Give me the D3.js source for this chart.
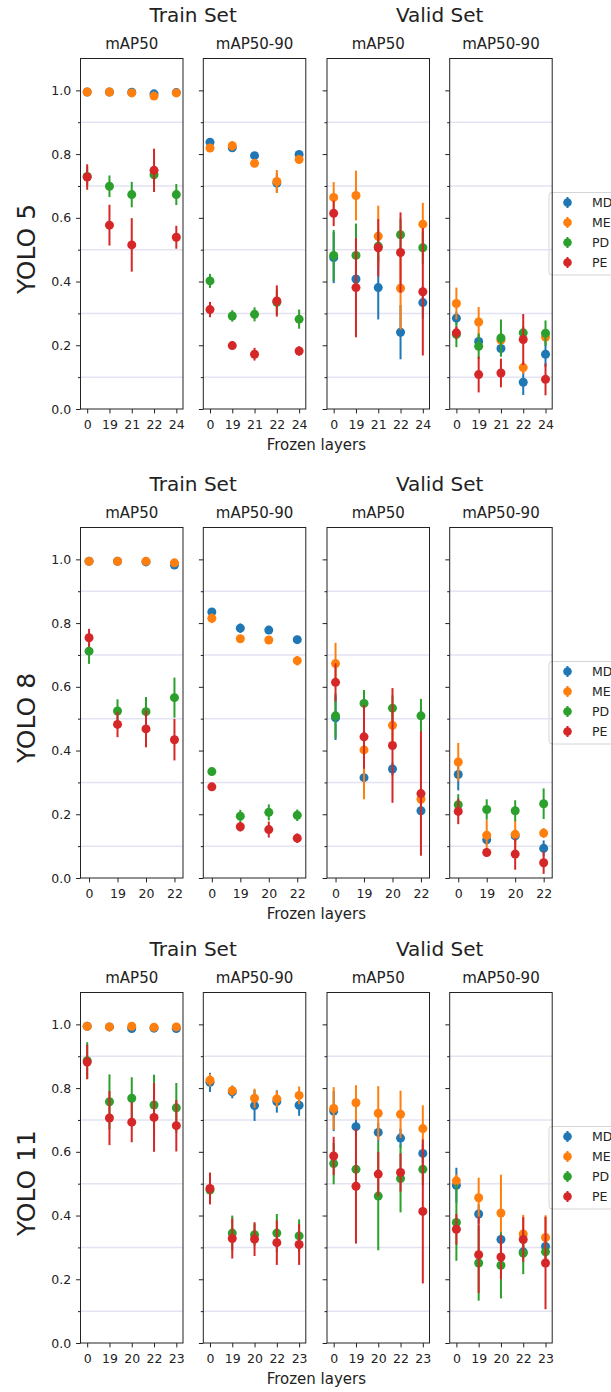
<!DOCTYPE html>
<html>
<head>
<meta charset="utf-8">
<script src="https://cdn.jsdelivr.net/npm/d3@7"></script>
<style>
  body { margin: 0; background: #fff; }
  svg { display: block; font-family: "DejaVu Sans", sans-serif; }
</style>
</head>
<body>
<svg id="chart" width="611" height="1392"></svg>
<script>
// categories
const series = ["MD", "ME", "PD", "PE"];
const colors = ["#1f77b4", "#ff7f0e", "#2ca02c", "#d62728"];
const layers5 = ["0", "19", "21", "22", "24"];
const layers8 = ["0", "19", "20", "22"];
const layers11 = ["0", "19", "20", "22", "23"];
const yTicks = [0, 0.2, 0.4, 0.6, 0.8, 1.0];
const yMinor = [0.1, 0.3, 0.5, 0.7, 0.9];
const panelTitles = ["mAP50", "mAP50-90", "mAP50", "mAP50-90"];

// YOLO 5 (rows = MD, ME, PD, PE)
const y5TrainMap50 = [[0.995, 0.995, 0.994, 0.989, 0.993], [0.995, 0.995, 0.992, 0.982, 0.992], [0.73, 0.699, 0.673, 0.735, 0.673], [0.728, 0.577, 0.515, 0.749, 0.539]];
const y5TrainMap50Err = [[0.003, 0.003, 0.004, 0.005, 0.003], [0.003, 0.003, 0.004, 0.008, 0.003], [0.03, 0.034, 0.04, 0.03, 0.033], [0.04, 0.064, 0.084, 0.068, 0.036]];
const y5TrainMap5090 = [[0.837, 0.82, 0.795, 0.709, 0.799], [0.819, 0.826, 0.771, 0.714, 0.783], [0.402, 0.292, 0.297, 0.335, 0.282], [0.312, 0.199, 0.172, 0.339, 0.182]];
const y5TrainMap5090Err = [[0.008, 0.01, 0.008, 0.03, 0.008], [0.008, 0.015, 0.008, 0.036, 0.008], [0.022, 0.018, 0.022, 0.04, 0.03], [0.024, 0.01, 0.02, 0.049, 0.015]];
const y5ValidMap50 = [[0.475, 0.408, 0.381, 0.241, 0.334], [0.664, 0.67, 0.542, 0.379, 0.58], [0.482, 0.482, 0.511, 0.547, 0.506], [0.614, 0.381, 0.506, 0.491, 0.368]];
const y5ValidMap50Err = [[0.08, 0.04, 0.1, 0.085, 0.05], [0.048, 0.078, 0.096, 0.13, 0.067], [0.08, 0.1, 0.05, 0.05, 0.05], [0.04, 0.156, 0.09, 0.126, 0.2]];
const y5ValidMap5090 = [[0.285, 0.212, 0.19, 0.084, 0.172], [0.331, 0.273, 0.216, 0.13, 0.226], [0.234, 0.197, 0.223, 0.239, 0.238], [0.239, 0.108, 0.113, 0.218, 0.093]];
const y5ValidMap5090Err = [[0.02, 0.02, 0.025, 0.04, 0.04], [0.05, 0.047, 0.02, 0.02, 0.02], [0.04, 0.04, 0.058, 0.02, 0.04], [0.02, 0.056, 0.045, 0.08, 0.05]];

// YOLO 8
const y8TrainMap50 = [[0.994, 0.994, 0.992, 0.982], [0.994, 0.994, 0.994, 0.989], [0.712, 0.524, 0.522, 0.566], [0.754, 0.482, 0.468, 0.434]];
const y8TrainMap50Err = [[0.002, 0.002, 0.003, 0.005], [0.002, 0.002, 0.002, 0.004], [0.04, 0.037, 0.046, 0.063], [0.028, 0.04, 0.058, 0.065]];
const y8TrainMap5090 = [[0.835, 0.784, 0.778, 0.748], [0.815, 0.751, 0.747, 0.682], [0.334, 0.194, 0.206, 0.197], [0.286, 0.161, 0.152, 0.125]];
const y8TrainMap5090Err = [[0.01, 0.015, 0.01, 0.012], [0.015, 0.008, 0.008, 0.015], [0.01, 0.02, 0.025, 0.018], [0.01, 0.015, 0.025, 0.015]];
const y8ValidMap50 = [[0.503, 0.315, 0.342, 0.211], [0.673, 0.402, 0.479, 0.247], [0.509, 0.548, 0.533, 0.509], [0.614, 0.443, 0.416, 0.265]];
const y8ValidMap50Err = [[0.07, 0.02, 0.02, 0.02], [0.065, 0.155, 0.05, 0.03], [0.07, 0.042, 0.04, 0.053], [0.06, 0.1, 0.18, 0.195]];
const y8ValidMap5090 = [[0.325, 0.12, 0.132, 0.093], [0.364, 0.134, 0.137, 0.141], [0.23, 0.215, 0.211, 0.233], [0.209, 0.08, 0.075, 0.048]];
const y8ValidMap5090Err = [[0.05, 0.015, 0.02, 0.025], [0.06, 0.048, 0.045, 0.015], [0.033, 0.032, 0.033, 0.048], [0.04, 0.012, 0.049, 0.035]];

// YOLO 11
const y11TrainMap50 = [[0.994, 0.992, 0.987, 0.988, 0.987], [0.994, 0.992, 0.994, 0.991, 0.992], [0.886, 0.757, 0.768, 0.747, 0.738], [0.882, 0.706, 0.693, 0.708, 0.682]];
const y11TrainMap50Err = [[0.003, 0.003, 0.003, 0.003, 0.003], [0.003, 0.003, 0.003, 0.003, 0.003], [0.058, 0.086, 0.066, 0.095, 0.078], [0.054, 0.085, 0.063, 0.108, 0.081]];
const y11TrainMap5090 = [[0.818, 0.788, 0.745, 0.758, 0.746], [0.825, 0.792, 0.768, 0.766, 0.777], [0.48, 0.345, 0.34, 0.345, 0.336], [0.485, 0.328, 0.326, 0.315, 0.309]];
const y11TrainMap5090Err = [[0.03, 0.02, 0.048, 0.035, 0.033], [0.02, 0.015, 0.03, 0.025, 0.028], [0.04, 0.055, 0.035, 0.06, 0.052], [0.05, 0.063, 0.053, 0.07, 0.064]];
const y11ValidMap50 = [[0.728, 0.679, 0.661, 0.643, 0.595], [0.736, 0.754, 0.721, 0.718, 0.673], [0.563, 0.545, 0.461, 0.516, 0.545], [0.587, 0.492, 0.53, 0.535, 0.413]];
const y11ValidMap50Err = [[0.063, 0.03, 0.03, 0.03, 0.03], [0.067, 0.055, 0.085, 0.074, 0.073], [0.065, 0.05, 0.17, 0.106, 0.05], [0.06, 0.18, 0.07, 0.06, 0.226]];
const y11ValidMap5090 = [[0.495, 0.405, 0.325, 0.286, 0.303], [0.509, 0.456, 0.408, 0.342, 0.331], [0.378, 0.251, 0.244, 0.282, 0.286], [0.357, 0.277, 0.27, 0.325, 0.251]];
const y11ValidMap5090Err = [[0.055, 0.03, 0.02, 0.02, 0.02], [0.02, 0.063, 0.12, 0.06, 0.07], [0.12, 0.118, 0.104, 0.066, 0.03], [0.048, 0.12, 0.07, 0.07, 0.145]];

const rows = [
  { label: "YOLO 5", top: 0, layers: layers5,
    panels: [[y5TrainMap50, y5TrainMap50Err], [y5TrainMap5090, y5TrainMap5090Err], [y5ValidMap50, y5ValidMap50Err], [y5ValidMap5090, y5ValidMap5090Err]] },
  { label: "YOLO 8", top: 469, layers: layers8,
    panels: [[y8TrainMap50, y8TrainMap50Err], [y8TrainMap5090, y8TrainMap5090Err], [y8ValidMap50, y8ValidMap50Err], [y8ValidMap5090, y8ValidMap5090Err]] },
  { label: "YOLO 11", top: 934, layers: layers11,
    panels: [[y11TrainMap50, y11TrainMap50Err], [y11TrainMap5090, y11TrainMap5090Err], [y11ValidMap50, y11ValidMap50Err], [y11ValidMap5090, y11ValidMap5090Err]] }
];

const svg = d3.select("#chart");
const panelX = [80.5, 203.3, 327, 449.7];
const panelW = 102.5, panelTop = 58.5, panelH = 350.5;
const textColor = "#222";

rows.forEach(row => {
  const top = row.top;

  // legend goes first so the panel frame sits above it
  const lg = svg.append("g").attr("transform", `translate(549,${top + 192.5})`);
  lg.append("rect")
    .attr("width", 80).attr("height", 82.5).attr("rx", 3)
    .attr("fill", "#fff").attr("stroke", "#d5d5d5");
  series.forEach((s, i) => {
    const e = lg.append("g").attr("transform", `translate(18.5,${10 + i * 20})`);
    e.append("line").attr("y1", -5.5).attr("y2", 5.5)
      .attr("stroke", colors[i]).attr("stroke-width", 2);
    e.append("circle").attr("r", 4.3).attr("fill", colors[i]);
    e.append("text").attr("x", 24.5).attr("dy", "0.35em")
      .style("font-size", "12.5px").attr("fill", textColor).text(s);
  });

  // group titles
  svg.append("text")
    .attr("x", (panelX[0] + panelX[1] + panelW) / 2).attr("y", top + 21.7)
    .attr("text-anchor", "middle").style("font-size", "20px").attr("fill", textColor)
    .text("Train Set");
  svg.append("text")
    .attr("x", (panelX[2] + panelX[3] + panelW) / 2).attr("y", top + 21.7)
    .attr("text-anchor", "middle").style("font-size", "20px").attr("fill", textColor)
    .text("Valid Set");

  // row label
  svg.append("text")
    .attr("transform", `translate(35,${top + 249}) rotate(-90)`)
    .attr("text-anchor", "middle").style("font-size", "25px").attr("fill", textColor)
    .text(row.label);

  // x label
  svg.append("text")
    .attr("x", (panelX[0] + panelX[3] + panelW) / 2).attr("y", top + 449.5)
    .attr("text-anchor", "middle").style("font-size", "15px").attr("fill", textColor)
    .text("Frozen layers");

  row.panels.forEach(([means, errs], p) => {
    const g = svg.append("g").attr("transform", `translate(${panelX[p]},${top + panelTop})`);
    const y = d3.scaleLinear().domain([0, 1.1]).range([panelH, 0]);
    const x = d3.scalePoint().domain(row.layers).range([0, panelW]).padding(0.3);

    g.append("text")
      .attr("x", panelW / 2).attr("y", -9.2)
      .attr("text-anchor", "middle").style("font-size", "15px").attr("fill", textColor)
      .text(panelTitles[p]);

    // grid at minor positions
    g.selectAll(".grid").data(yMinor).enter().append("line")
      .attr("x1", 0).attr("x2", panelW)
      .attr("y1", d => y(d)).attr("y2", d => y(d))
      .attr("stroke", "#e3e3f3").attr("stroke-width", 1.5);

    const yAxis = g.append("g")
      .call(d3.axisLeft(y).tickValues(yTicks).tickSize(4.4).tickPadding(5)
        .tickFormat(p === 0 ? d3.format(".1f") : () => ""));
    const yMin = g.append("g")
      .call(d3.axisLeft(y).tickValues(yMinor).tickSize(2.5).tickFormat(() => ""));
    const xAxis = g.append("g").attr("transform", `translate(0,${panelH})`)
      .call(d3.axisBottom(x).tickSize(4.4).tickPadding(7));
    [yAxis, yMin, xAxis].forEach(a => {
      a.select(".domain").remove();
      a.selectAll("line").attr("stroke", textColor);
      a.selectAll("text").attr("fill", textColor)
        .style("font-size", "12.5px").style("font-family", "DejaVu Sans, sans-serif");
    });

    // series: error bars then markers
    series.forEach((s, i) => {
      const pts = row.layers.map((l, k) => ({ l, m: means[i][k], e: errs[i][k] }));
      const sg = g.append("g");
      sg.selectAll("line").data(pts).enter().append("line")
        .attr("x1", d => x(d.l)).attr("x2", d => x(d.l))
        .attr("y1", d => y(d.m - d.e)).attr("y2", d => y(d.m + d.e))
        .attr("stroke", colors[i]).attr("stroke-width", 2);
      sg.selectAll("circle").data(pts).enter().append("circle")
        .attr("cx", d => x(d.l)).attr("cy", d => y(d.m))
        .attr("r", 4.5).attr("fill", colors[i]);
    });

    g.append("rect")
      .attr("width", panelW).attr("height", panelH)
      .attr("fill", "none").attr("stroke", textColor).attr("stroke-width", 1);
  });
});
</script>
</body>
</html>
